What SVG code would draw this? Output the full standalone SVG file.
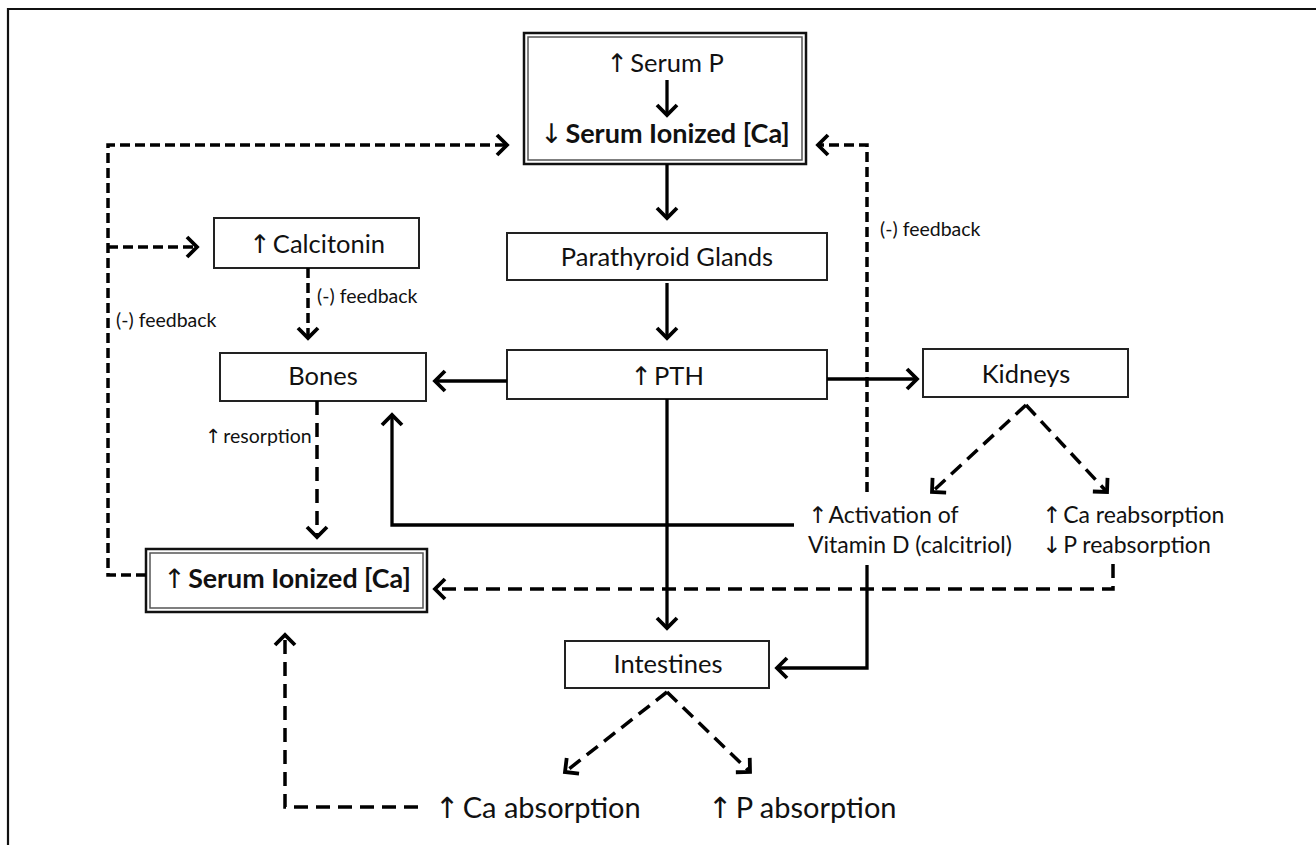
<svg xmlns="http://www.w3.org/2000/svg" width="1316" height="845" viewBox="0 0 1316 845">
<style>
  .bg { fill: #ffffff; }
  .frame { fill: none; stroke: #111; stroke-width: 2.2; }
  .box { fill: #ffffff; stroke: #222; stroke-width: 2; }
  .dbl-out { fill: #ffffff; stroke: #111; stroke-width: 2.5; }
  .dbl-in { fill: none; stroke: #555; stroke-width: 1.5; }
  .t { font-family: Lato, "Liberation Sans", sans-serif; fill: #111; }
  .main { font-size: 25.5px; }
  .bold { font-weight: bold; font-size: 27px; }
  .small { font-size: 19.5px; }
  .mid { font-size: 23px; }
  .big { font-size: 29px; }
  .ar { font-family: "DejaVu Sans", sans-serif; font-weight: normal; fill: #111; letter-spacing: -4px; }
  .c { text-anchor: middle; }
  .solid { fill: none; stroke: #000; stroke-width: 3.3; }
  .dash { fill: none; stroke: #000; stroke-width: 3.5; stroke-dasharray: 10 5; }
  .dashl { fill: none; stroke: #000; stroke-width: 3.5; stroke-dasharray: 14 8; }
</style>
<defs>
  <marker id="ah" markerUnits="userSpaceOnUse" viewBox="-14 -12 16 24" refX="0" refY="0" markerWidth="16" markerHeight="24" orient="auto" overflow="visible">
    <path d="M-10,-10 L0,0 L-10,10" fill="none" stroke="#000" stroke-width="3.8" stroke-linejoin="miter"/>
  </marker>
</defs>
<rect class="bg" x="0" y="0" width="1316" height="845"/>
<polyline class="frame" points="8,845 8,9 1316,9"/>

<g id="serum-low">
  <rect class="dbl-out" x="524" y="33" width="282" height="131"/>
  <rect class="dbl-in" x="528" y="37" width="274" height="123"/>
  <text class="t main c" x="665" y="72"><tspan class="ar">↑</tspan> Serum P</text>
  <path class="solid" d="M667,80 L667,115" marker-end="url(#ah)"/>
  <text class="t bold c" x="665" y="143"><tspan class="ar">↓</tspan> Serum Ionized [Ca]</text>
</g>

<g id="calcitonin">
  <rect class="box" x="214" y="218" width="205" height="50"/>
  <text class="t main c" x="317" y="253"><tspan class="ar">↑</tspan> Calcitonin</text>
</g>

<g id="parathyroid">
  <rect class="box" x="507" y="233" width="320" height="47"/>
  <text class="t main c" x="667" y="266">Parathyroid Glands</text>
</g>

<g id="bones">
  <rect class="box" x="220" y="353" width="206" height="48"/>
  <text class="t main c" x="323" y="385">Bones</text>
</g>

<g id="pth">
  <rect class="box" x="507" y="350" width="320" height="49"/>
  <text class="t main c" x="667" y="385"><tspan class="ar">↑</tspan> PTH</text>
</g>

<g id="kidneys">
  <rect class="box" x="923" y="349" width="205" height="48"/>
  <text class="t main c" x="1026" y="383">Kidneys</text>
</g>

<g id="serum-high">
  <rect class="dbl-out" x="146" y="549" width="281" height="63"/>
  <rect class="dbl-in" x="150" y="553" width="273" height="55"/>
  <text class="t bold c" x="287" y="588" style="font-size:26.8px"><tspan class="ar">↑</tspan> Serum Ionized [Ca]</text>
</g>

<g id="intestines">
  <rect class="box" x="565" y="641" width="204" height="47"/>
  <text class="t main c" x="668" y="673">Intestines</text>
</g>

<g id="vitamin-d">
  <text class="t mid" x="808" y="523"><tspan class="ar">↑</tspan> Activation of</text>
  <text class="t mid" x="808" y="553">Vitamin D (calcitriol)</text>
</g>

<g id="reabsorption">
  <text class="t mid" x="1042" y="523"><tspan class="ar">↑</tspan> Ca reabsorption</text>
  <text class="t mid" x="1042" y="553"><tspan class="ar">↓</tspan> P reabsorption</text>
</g>

<g id="absorption">
  <text class="t big" x="435" y="818"><tspan class="ar">↑</tspan> Ca absorption</text>
  <text class="t big" x="708" y="818"><tspan class="ar">↑</tspan> P absorption</text>
</g>

<g id="labels">
  <text class="t small" x="317" y="303">(-) feedback</text>
  <text class="t small" x="116" y="327">(-) feedback</text>
  <text class="t small" x="880" y="236">(-) feedback</text>
  <text class="t small" x="205" y="443"><tspan class="ar" style="letter-spacing:-3px">↑</tspan> resorption</text>
</g>

<g id="connectors">
  <path class="solid" d="M667,164 L667,218" marker-end="url(#ah)"/>
  <path class="solid" d="M667,283 L667,338" marker-end="url(#ah)"/>
  <path class="solid" d="M507,381 L435,381" marker-end="url(#ah)"/>
  <path class="solid" d="M827,379 L917,379" marker-end="url(#ah)"/>
  <path class="solid" d="M667,399 L667,628" marker-end="url(#ah)"/>
  <path class="solid" d="M794,525 L392,525 L392,415" marker-end="url(#ah)"/>
  <path class="solid" d="M867,565 L867,668 L777,668" marker-end="url(#ah)"/>
  <path class="dash" d="M146,575 L108,575 L108,145 L507,145" marker-end="url(#ah)"/>
  <path class="dash" d="M108,247 L197,247" marker-end="url(#ah)"/>
  <path class="dash" d="M308,268 L308,338" marker-end="url(#ah)"/>
  <path class="dashl" d="M317,401 L317,537" marker-end="url(#ah)"/>
  <path class="dash" d="M867,492 L867,145 L818,145" marker-end="url(#ah)"/>
  <path class="dashl" d="M1113,564 L1113,589 L435,589" marker-end="url(#ah)"/>
  <path class="dashl" d="M1026,405 L932,492" marker-end="url(#ah)"/>
  <path class="dashl" d="M1026,405 L1107,492" marker-end="url(#ah)"/>
  <path class="dashl" d="M667,692 L565,772" marker-end="url(#ah)"/>
  <path class="dashl" d="M667,692 L750,772" marker-end="url(#ah)"/>
  <path class="dashl" d="M418,807 L285,807 L285,635" marker-end="url(#ah)"/>
</g>
</svg>
